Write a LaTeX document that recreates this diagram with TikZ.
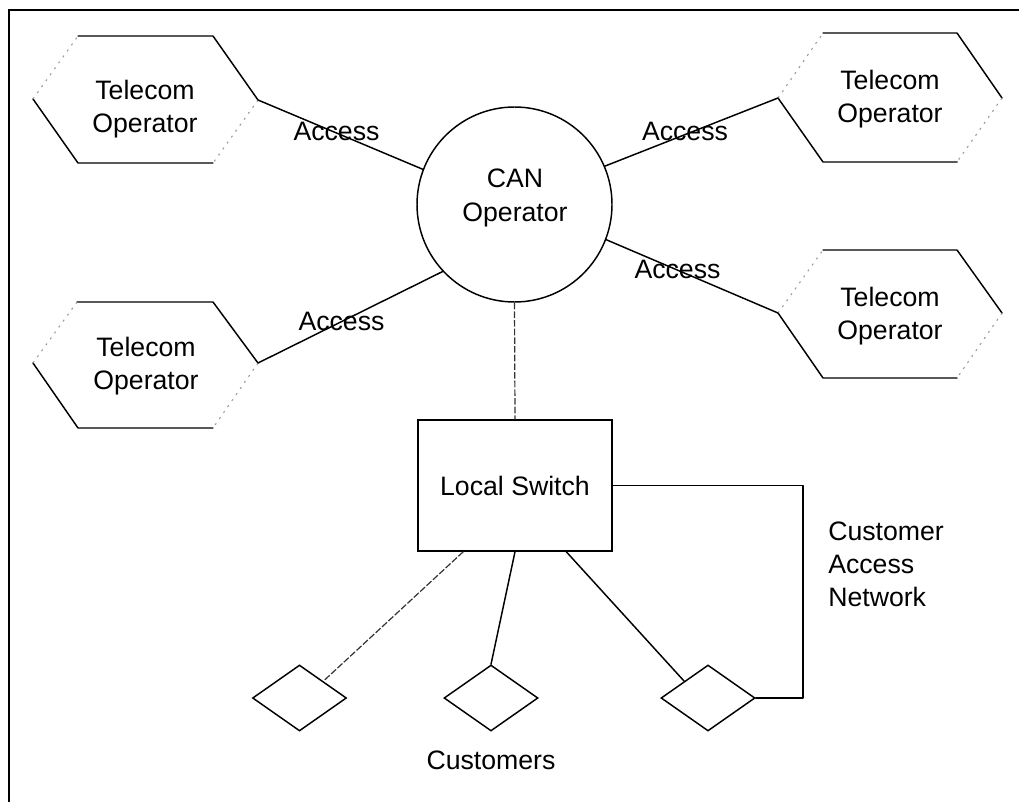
\documentclass[tikz,border=0pt]{standalone}
\usepackage{fontspec}
\setmainfont{Liberation Sans}
\usetikzlibrary{shapes.geometric}
\begin{document}
\begin{tikzpicture}[x=0.75pt,y=-0.75pt,
  ln/.style={line width=1.1pt,line join=round,line cap=round},
  faint/.style={line width=0.8pt,draw=black!40,dash pattern=on 1.5pt off 4pt},
  thinline/.style={line width=0.9pt,draw=black!80,dash pattern=on 5pt off 1.5pt},
  frameline/.style={line width=2.2pt},
  lbl/.style={inner sep=0pt,anchor=base,font=\fontsize{20pt}{24.75pt}\selectfont},
  canbox/.style={circle,draw,line width=1.1pt,inner sep=0pt,minimum size=146.25pt},
  switchbox/.style={rectangle,draw,line width=1.1pt,inner sep=0pt,minimum width=145.5pt,minimum height=98.25pt,font=\fontsize{20pt}{24.75pt}\selectfont},
  custbox/.style={diamond,draw,line width=1.1pt,inner sep=0pt,minimum width=70.5pt,minimum height=49.5pt}
]
\useasboundingbox (0,0) rectangle (1019,802);
% frame (cut off at right and bottom)
\draw[frameline] (9,802) -- (9,10) -- (1019,10);

% CAN operator
\node[canbox] (can) at (514.5,204.5) {};
\node[lbl] (cant) at (515,188) {\begin{tabular}[t]{@{}c@{}}CAN\\Operator\end{tabular}};

% Local switch
\node[switchbox] (switch) at (515,485.5) {Local Switch};

% customers
\node[custbox] (d1) at (299.5,698) {};
\node[custbox] (d2) at (491,698) {};
\node[custbox] (d3) at (708,698) {};
\node[lbl] (cust) at (491,769) {Customers};
\node[lbl,anchor=base west] (can2) at (828,540) {\begin{tabular}[t]{@{}l@{}}Customer\\Access\\Network\end{tabular}};

% Telecom operators (hexagons)
\coordinate (a1) at (33,99);  \coordinate (a2) at (78,36);  \coordinate (a3) at (213,36);
\coordinate (a4) at (258,100); \coordinate (a5) at (213,163); \coordinate (a6) at (78,163);
\coordinate (c1) at (33,363);  \coordinate (c2) at (77,302);  \coordinate (c3) at (213,302);
\coordinate (c4) at (258,363); \coordinate (c5) at (213,428); \coordinate (c6) at (78,428);
\coordinate (b1) at (778,98);  \coordinate (b2) at (823,33);  \coordinate (b3) at (957,33);
\coordinate (b4) at (1002,98); \coordinate (b5) at (957,162); \coordinate (b6) at (823,162);
\coordinate (e1) at (778,313); \coordinate (e2) at (823,250); \coordinate (e3) at (957,250);
\coordinate (e4) at (1002,313); \coordinate (e5) at (957,378); \coordinate (e6) at (823,378);

\draw[ln] (a4) -- (a3) -- (a2);  \draw[ln] (a5) -- (a6) -- (a1);
\draw[faint] (a1) -- (a2); \draw[faint] (a4) -- (a5);
\draw[ln] (c4) -- (c3) -- (c2);  \draw[ln] (c5) -- (c6) -- (c1);
\draw[faint] (c1) -- (c2); \draw[faint] (c4) -- (c5);
\draw[ln] (b2) -- (b3) -- (b4);  \draw[ln] (b5) -- (b6) -- (b1);
\draw[faint] (b1) -- (b2); \draw[faint] (b4) -- (b5);
\draw[ln] (e2) -- (e3) -- (e4);  \draw[ln] (e5) -- (e6) -- (e1);
\draw[faint] (e1) -- (e2); \draw[faint] (e4) -- (e5);

\node[lbl] (tlt) at (145,100) {\begin{tabular}[t]{@{}c@{}}Telecom\\Operator\end{tabular}};
\node[lbl] (blt) at (146,356) {\begin{tabular}[t]{@{}c@{}}Telecom\\Operator\end{tabular}};
\node[lbl] (trt) at (890,90) {\begin{tabular}[t]{@{}c@{}}Telecom\\Operator\end{tabular}};
\node[lbl] (brt) at (890,306) {\begin{tabular}[t]{@{}c@{}}Telecom\\Operator\end{tabular}};

% access links
\draw[ln] (a4) -- (can.159);
\draw[ln] (c4) -- (can.223);
\draw[ln] (can.23) -- (b1);
\draw[ln] (can.-21) -- (e1);
\node[lbl] (acc1) at (336.5,141) {Access};
\node[lbl] (acc2) at (341.5,330) {Access};
\node[lbl] (acc3) at (685,141) {Access};
\node[lbl] (acc4) at (677.5,278) {Access};

% CAN to switch
\draw[thinline] (can.south) -- (switch.north);

% switch to customers
\path (switch.south west) ++(46,0) coordinate (s1);
\path (switch.south west) ++(149,0) coordinate (s3);
\coordinate (cn) at (803,485.5);
\draw[thinline] (s1) -- (d1.north east);
\draw[ln] (switch.south) -- (d2.north);
\draw[ln] (s3) -- (d3.north west);
\draw[ln] (switch.east) -- (cn) |- (d3.east);
\end{tikzpicture}
\end{document}
